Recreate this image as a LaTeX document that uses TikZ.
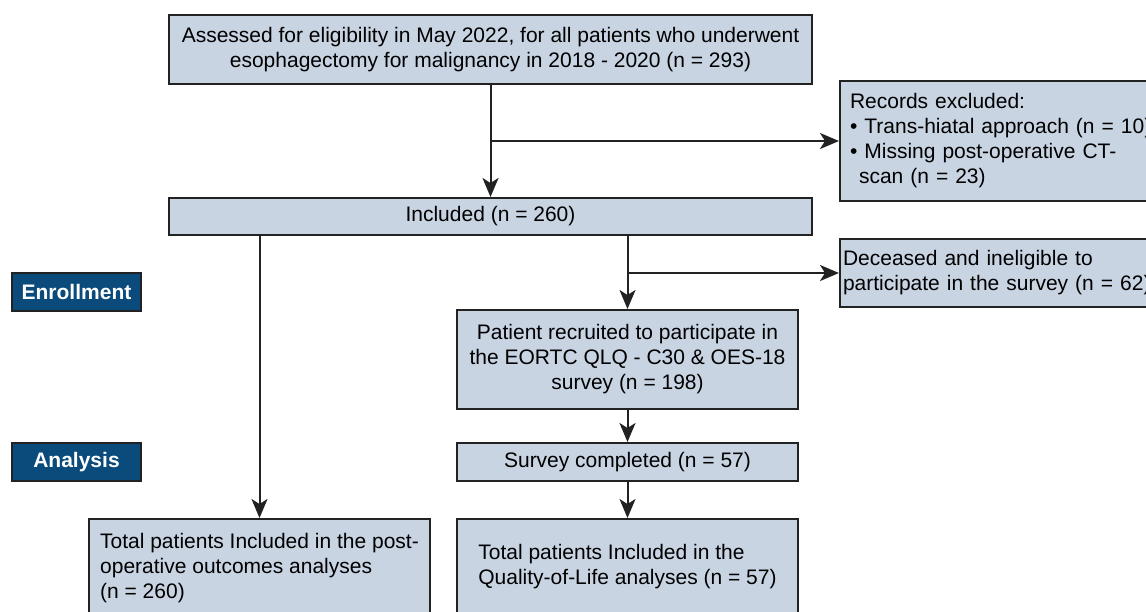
\documentclass[tikz,border=0pt]{standalone}
\usepackage{fontspec}
\setmainfont{Liberation Sans}
\usetikzlibrary{arrows.meta}
\definecolor{boxfill}{HTML}{C9D4E3}
\definecolor{stageblue}{HTML}{0A4B7C}
\definecolor{edgegray}{HTML}{222222}
\tikzset{
  flowbox/.style={draw=edgegray, fill=boxfill, line width=2pt, inner sep=0pt,
    font=\fontsize{21}{25}\selectfont, anchor=north west},
  stagebox/.style={draw=edgegray, fill=stageblue, text=white, line width=2pt, inner sep=0pt,
    font=\fontsize{21}{25}\selectfont\bfseries, anchor=north west,
    minimum width=129, minimum height=38},
  flow/.style={draw=edgegray, line width=2pt, -{Stealth[length=19pt,width=16pt,inset=5pt]}}
}
\begin{document}
\begin{tikzpicture}[x=1pt,y=-1pt]
\useasboundingbox (0,0) rectangle (1146,611);
\clip (0,0) rectangle (1146,611);
\node[flowbox, minimum width=643, minimum height=69, align=center] (assess) at (168,14)
  {Assessed for eligibility in May 2022, for all patients who underwent\\
   esophagectomy for malignancy in 2018 - 2020 (n = 293)};
\node[flowbox, minimum height=120, text width=310, inner xsep=10, align=left] (records) at (839,80)
  {Records excluded:\\
   • Trans-hiatal approach (n = 10)\\
   • Missing post-operative CT-\\
   \hspace*{9pt}scan (n = 23)};
\node[flowbox, minimum width=643, minimum height=37] (incl) at (168,197) {Included (n = 260)};
\node[flowbox, minimum height=68, text width=320, inner xsep=3, align=left] (deceased) at (839,238)
  {Deceased and ineligible to\\
   participate in the survey (n = 62)};
\node[stagebox] (enroll) at (11,272) {Enrollment};
\node[flowbox, minimum width=341, minimum height=99, align=center] (recruit) at (456,309)
  {Patient recruited to participate in\\
   the EORTC QLQ - C30 \& OES-18\\
   survey (n = 198)};
\node[stagebox] (analysis) at (11,442) {Analysis};
\node[flowbox, minimum width=341, minimum height=38] (survey) at (456,442) {Survey completed (n = 57)};
\node[flowbox, minimum width=341, minimum height=98, align=left] (postop) at (88,518)
  {Total patients Included in the post-\\
   operative outcomes analyses\\
   (n = 260)};
\node[flowbox, minimum width=341, minimum height=95, align=left] (qol) at (456,518)
  {Total patients Included in the\\
   Quality-of-Life analyses (n = 57)};
\draw[flow] (assess.south) -- (incl.north);
\draw[flow] (assess.south |- records.west) -- (records.west);
\draw[flow] (incl.south -| postop.north) -- (postop.north);
\draw[flow] (incl.south -| recruit.north) -- (recruit.north);
\draw[flow] (recruit.north |- deceased.west) -- (deceased.west);
\draw[flow] (recruit.south) -- (survey.north);
\draw[flow] (survey.south) -- (qol.north);
\end{tikzpicture}
\end{document}
